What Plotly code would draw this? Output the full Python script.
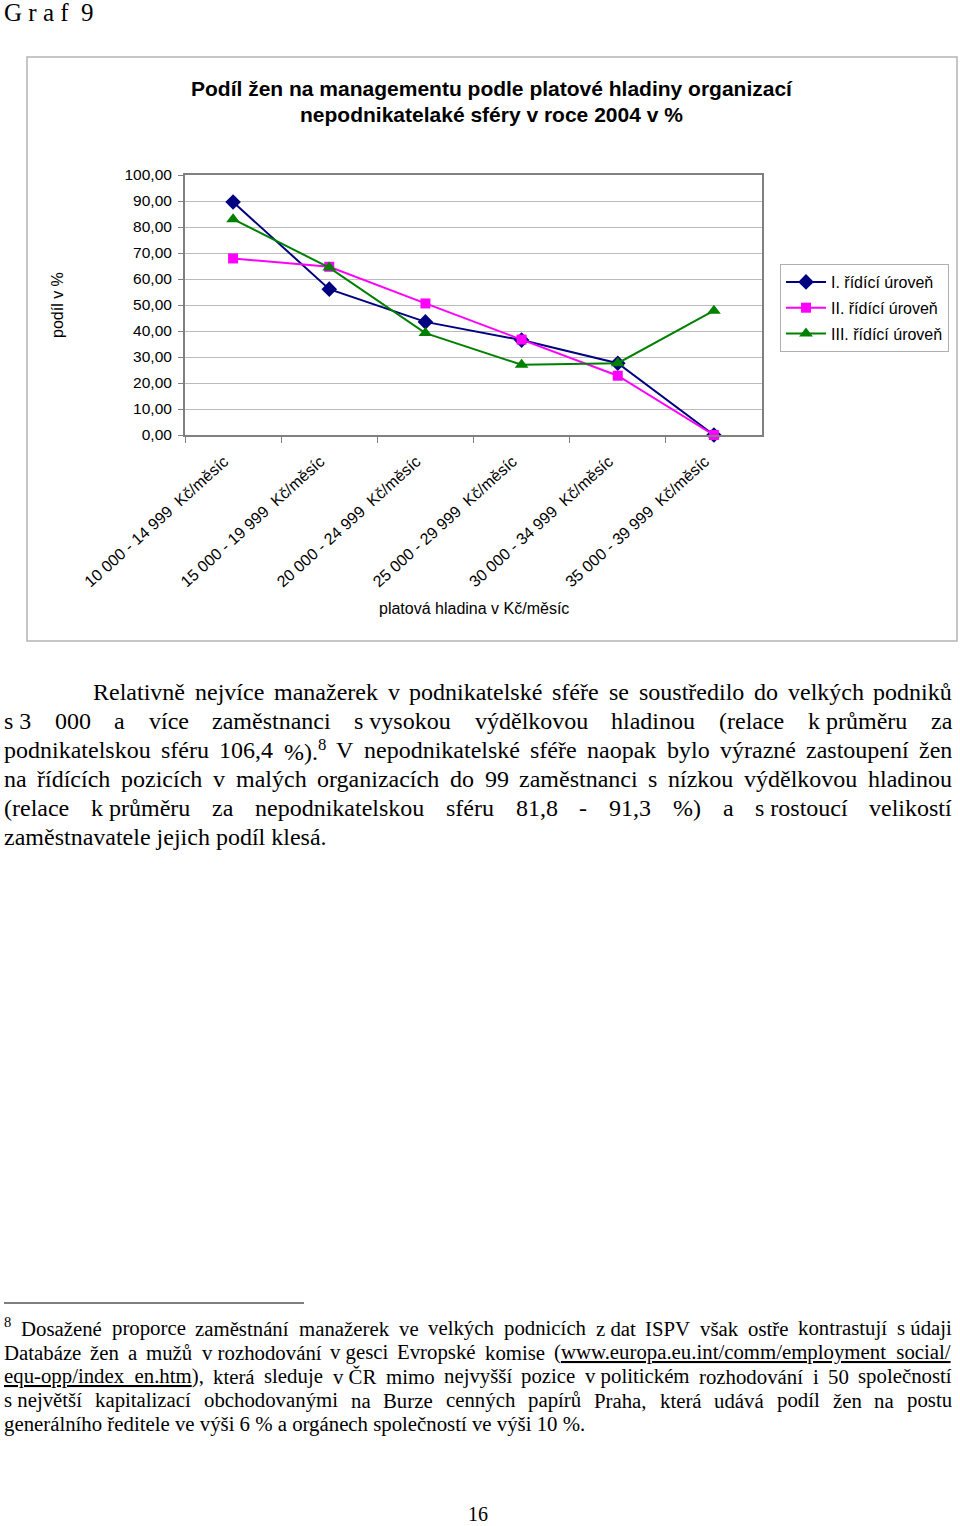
import os, re, struct
import plotly.graph_objects as go

# ---------------- data ----------------
categories = [
    "10 000 - 14 999  Kč/měsíc",
    "15 000 - 19 999  Kč/měsíc",
    "20 000 - 24 999  Kč/měsíc",
    "25 000 - 29 999  Kč/měsíc",
    "30 000 - 34 999  Kč/měsíc",
    "35 000 - 39 999  Kč/měsíc",
]
level1 = [89.6, 56.1, 43.5, 36.5, 27.6, 0.0]
level2 = [67.9, 64.7, 50.6, 36.7, 22.8, 0.0]
level3 = [83.0, 64.4, 39.2, 27.0, 27.6, 47.8]
series_names = ["I. řídící úroveň", "II. řídící úroveň", "III. řídící úroveň"]
y_ticks = [0, 10, 20, 30, 40, 50, 60, 70, 80, 90, 100]

chart_title_1 = "Podíl žen na managementu podle platové hladiny organizací"
chart_title_2 = "nepodnikatelaké sféry v roce 2004 v %"
y_title = "podíl v %"
x_title = "platová hladina v Kč/měsíc"

body_lines = [
    "Relativně nejvíce manažerek v podnikatelské sféře se soustředilo do velkých podniků",
    "s~3 000 a více zaměstnanci s~vysokou výdělkovou hladinou (relace k~průměru za",
    "podnikatelskou sféru 106,4 %).<sup>8</sup> V nepodnikatelské sféře naopak bylo výrazné zastoupení žen",
    "na řídících pozicích v malých organizacích do 99 zaměstnanci s nízkou výdělkovou hladinou",
    "(relace k~průměru za nepodnikatelskou sféru 81,8 - 91,3 %) a s~rostoucí velikostí",
    "zaměstnavatele jejich podíl klesá.",
]
foot_lines = [
    "<sup>8</sup> Dosažené proporce zaměstnání manažerek ve velkých podnicích z~dat ISPV však ostře kontrastují s~údaji",
    "Databáze žen a mužů v~rozhodování v~gesci Evropské komise (<u>www.europa.eu.int/comm/employment_social/</u>",
    "<u>equ-opp/index_en.htm</u>), která sleduje v~ČR mimo nejvyšší pozice v~politickém rozhodování i 50 společností",
    "s~největší kapitalizací obchodovanými na Burze cenných papírů Praha, která udává podíl žen na postu",
    "generálního ředitele ve výši 6 % a orgánech společností ve výši 10 %.",
]

# ---------------- helpers ----------------
W, H = 960, 1526
def px(x):
    return x / W
def py(y):
    return 1 - y / H

def find_font(name):
    for root, _, files in os.walk("/usr/share/fonts"):
        if name in files:
            return os.path.join(root, name)
    return None

def load_width_fn(path):
    try:
        with open(path, "rb") as f:
            data = f.read()
        nt = struct.unpack(">H", data[4:6])[0]
        tables = {}
        for i in range(nt):
            tag, cs, off, ln = struct.unpack(">4sIII", data[12 + 16 * i:28 + 16 * i])
            tables[tag.decode("latin1")] = off
        upem = struct.unpack(">H", data[tables["head"] + 18:tables["head"] + 20])[0]
        nhm = struct.unpack(">H", data[tables["hhea"] + 34:tables["hhea"] + 36])[0]
        ho = tables["hmtx"]
        adv = [struct.unpack(">H", data[ho + 4 * i:ho + 4 * i + 2])[0] for i in range(nhm)]
        co = tables["cmap"]
        n = struct.unpack(">H", data[co + 2:co + 4])[0]
        sub = None
        for i in range(n):
            pid, eid, off = struct.unpack(">HHI", data[co + 4 + 8 * i:co + 12 + 8 * i])
            fmt = struct.unpack(">H", data[co + off:co + off + 2])[0]
            if fmt == 4 and pid == 3:
                sub = co + off
                break
        segX2 = struct.unpack(">H", data[sub + 6:sub + 8])[0]
        seg = segX2 // 2
        ends = struct.unpack(">%dH" % seg, data[sub + 14:sub + 14 + segX2])
        starts = struct.unpack(">%dH" % seg, data[sub + 16 + segX2:sub + 16 + 2 * segX2])
        deltas = struct.unpack(">%dh" % seg, data[sub + 16 + 2 * segX2:sub + 16 + 3 * segX2])
        ro = sub + 16 + 3 * segX2
        ros = struct.unpack(">%dH" % seg, data[ro:ro + segX2])

        def gid(c):
            for i in range(seg):
                if ends[i] >= c:
                    if starts[i] > c:
                        return 0
                    if ros[i] == 0:
                        return (c + deltas[i]) & 0xFFFF
                    addr = ro + 2 * i + ros[i] + 2 * (c - starts[i])
                    g = struct.unpack(">H", data[addr:addr + 2])[0]
                    return (g + deltas[i]) & 0xFFFF if g else 0
            return 0

        def width(s, size):
            tot = 0
            for ch in s:
                g = gid(ord(ch))
                tot += adv[min(g, nhm - 1)]
            return tot * size / upem
        return width
    except Exception:
        return lambda s, size: len(s) * 0.45 * size

serif_path = find_font("LiberationSerif-Regular.ttf")
wfn = load_width_fn(serif_path) if serif_path else (lambda s, size: len(s) * 0.45 * size)

def text_width(s, size):
    tot = 0
    for m in re.finditer(r"<sup>(.*?)</sup>|<[^>]+>|([^<]+)", s):
        if m.group(1) is not None:
            tot += wfn(m.group(1), size * 0.7)
        elif m.group(2):
            tot += wfn(m.group(2), size)
    return tot

annotations = []
SERIF = "Liberation Serif"
SANS = "Liberation Sans"

def add_text(text, x, y, size, family, xanchor="left", color="black", angle=0):
    annotations.append(dict(
        text=text, x=px(x), y=py(y), xref="paper", yref="paper",
        xanchor=xanchor, yanchor="middle", showarrow=False, textangle=angle,
        font=dict(family=family, size=size, color=color),
        borderpad=0, borderwidth=0,
    ))

def paragraph(lines, first_left, left, right, y0, dy, target_size):
    tokens = [[t.replace("~", " ") for t in ln.split(" ")] for ln in lines]
    size = target_size
    for i, toks in enumerate(tokens[:-1]):
        l = first_left if i == 0 else left
        nat = sum(text_width(t, 1) for t in toks) + 0.2 * (len(toks) - 1)
        size = min(size, (right - l) / nat)
    for i, toks in enumerate(tokens):
        l = first_left if i == 0 else left
        y = y0 + i * dy
        if i == len(tokens) - 1:
            add_text(" ".join(toks), l, y, size, SERIF)
            continue
        widths = [text_width(t, size) for t in toks]
        gap = (right - l - sum(widths)) / (len(toks) - 1)
        x = l
        for t, wd in zip(toks, widths):
            m = re.fullmatch(r"<sup>(.*?)</sup>", t)
            if m:
                add_text(m.group(1), x, y - 0.3 * size, size * 0.7, SERIF)
            else:
                add_text(t, x, y, size, SERIF)
            x += wd + gap

# ---------------- figure ----------------
fig = go.Figure()
styles = [
    dict(color="#000080", symbol="diamond", size=12),
    dict(color="#FF00FF", symbol="square", size=10),
    dict(color="#008000", symbol="triangle-up", size=12),
]
for name, vals, st in zip(series_names, [level1, level2, level3], styles):
    fig.add_trace(go.Scatter(
        x=categories, y=vals, name=name, mode="lines+markers",
        line=dict(color=st["color"], width=2),
        marker=dict(color=st["color"], symbol=st["symbol"], size=st["size"]),
        cliponaxis=False, legendgroup=name,
    ))

fig.update_layout(
    width=W, height=H,
    margin=dict(l=0, r=0, t=0, b=0, pad=0, autoexpand=False),
    paper_bgcolor="white", plot_bgcolor="white",
    separators=", ",
    showlegend=True,
    legend=dict(
        x=px(780), y=py(264), xanchor="left", yanchor="top",
        bordercolor="#B0B0B0", borderwidth=1, bgcolor="white",
        font=dict(family=SANS, size=16, color="black"),
        tracegroupgap=2, itemwidth=40, traceorder="grouped",
    ),
    xaxis=dict(
        domain=[px(185), px(762)], type="category",
        range=[-0.5, 5.5], tickangle=-42, automargin=False,
        ticks="outside", tickson="boundaries", ticklen=6, tickcolor="#808080",
        showline=True, linecolor="#808080", linewidth=2, mirror=True,
        showgrid=False, zeroline=False, ticklabelstandoff=9, ticklabelshift=-9,
        tickfont=dict(family=SANS, size=16, color="black"),
    ),
    yaxis=dict(
        domain=[py(435), py(175)], range=[0, 100], automargin=False,
        tickvals=y_ticks, tickformat=".2f",
        ticks="outside", ticklen=5, tickcolor="#808080",
        showline=True, linecolor="#808080", linewidth=2, mirror=True,
        showgrid=True, gridcolor="#BBBBBB", gridwidth=1, zeroline=False,
        ticklabelstandoff=3,
        tickfont=dict(family=SANS, size=15.5, color="black"),
    ),
)

shapes = [
    dict(type="rect", xref="paper", yref="paper",
         x0=px(27), x1=px(957), y0=py(641), y1=py(57),
         line=dict(color="#B4B4B4", width=1.5), layer="below"),
    dict(type="line", xref="paper", yref="paper",
         x0=px(4), x1=px(304), y0=py(1303), y1=py(1303),
         line=dict(color="black", width=1)),
]

# page text
add_text("G r a f  9", 4, 12, 25, SERIF)
add_text("<b>" + chart_title_1 + "</b>", 492, 88, 21, SANS, xanchor="center")
add_text("<b>" + chart_title_2 + "</b>", 492, 114, 21, SANS, xanchor="center")
add_text(y_title, 58, 305, 16, SANS, xanchor="center", angle=-90)
add_text(x_title, 474, 609, 16, SANS, xanchor="center")

paragraph(body_lines, 93, 4, 952, 692, 29, 24)
paragraph(foot_lines, 4, 4, 952, 1328, 24, 20.8)
add_text("16", 478, 1514, 20, SERIF, xanchor="center")

fig.update_layout(annotations=annotations, shapes=shapes)
fig.write_html(
    "out.html",
    config={"displayModeBar": False},
    post_script="document.body.style.margin='0';document.body.style.padding='0';"
                "document.documentElement.style.overflow='hidden';",
)
